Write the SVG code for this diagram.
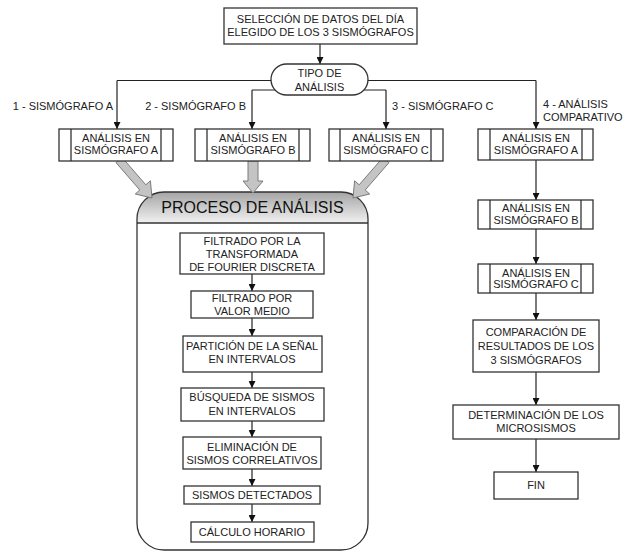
<svg xmlns="http://www.w3.org/2000/svg" width="631" height="552" viewBox="0 0 631 552">
<style>
.box{fill:#fff;stroke:#333;stroke-width:1.3}
.ln{fill:none;stroke:#222;stroke-width:1.2}
.t{font-family:"Liberation Sans",Arial,sans-serif;font-size:11px;fill:#222;text-anchor:middle}
.lbl{font-family:"Liberation Sans",Arial,sans-serif;font-size:11px;fill:#222}
.title{font-family:"Liberation Sans",Arial,sans-serif;font-size:16px;fill:#111;text-anchor:middle}
.fat{fill:#c4c4c4;stroke:#7a7a7a;stroke-width:1}
</style>
<defs>
<marker id="ah" viewBox="0 0 10 10" refX="10" refY="5" markerWidth="7" markerHeight="7" markerUnits="userSpaceOnUse" orient="auto">
<path d="M0,0 L10,5 L0,10 Z" fill="#111"/>
</marker>
<linearGradient id="hdr" x1="0" y1="0" x2="0" y2="1">
<stop offset="0" stop-color="#a4a4a4"/>
<stop offset="1" stop-color="#f2f2f2"/>
</linearGradient>
</defs>

<g id="proceso">
<rect x="137" y="192" width="231" height="358" rx="27" ry="27" fill="#fff"/>
<path d="M137,223 V219 A27,27 0 0 1 164,192 H341 A27,27 0 0 1 368,219 V223 Z" fill="url(#hdr)"/>
<rect x="137" y="192" width="231" height="358" rx="27" ry="27" fill="none" stroke="#333" stroke-width="1.3"/>
<line x1="137" y1="223" x2="368" y2="223" stroke="#333" stroke-width="1.3"/>
<text class="title" x="252.5" y="213">PROCESO DE ANÁLISIS</text>
</g>

<g id="connectors">
<line class="ln" x1="320" y1="44" x2="320" y2="64" marker-end="url(#ah)"/>
<polyline class="ln" points="117,80.5 536,80.5"/>
<line class="ln" x1="117" y1="80.5" x2="117" y2="129" marker-end="url(#ah)"/>
<line class="ln" x1="536" y1="80.5" x2="536" y2="129" marker-end="url(#ah)"/>
<polyline class="ln" points="252,90 386,90"/>
<line class="ln" x1="252" y1="90" x2="252" y2="129" marker-end="url(#ah)"/>
<line class="ln" x1="386" y1="90" x2="386" y2="129" marker-end="url(#ah)"/>
<polygon class="fat" points="116,162.6 139.8,190 135.3,194 152,198 150.4,180.8 145.8,184.8 122,157.4"/>
<polygon class="fat" points="248,161 248,181 243,181 253,193 263,181 258,181 258,161"/>
<polygon class="fat" points="389,162.6 365.2,190 369.7,194 353,198 354.6,180.8 359.2,184.8 383,157.4"/>
<line class="ln" x1="252" y1="274" x2="252" y2="291" marker-end="url(#ah)"/>
<line class="ln" x1="252" y1="318" x2="252" y2="336" marker-end="url(#ah)"/>
<line class="ln" x1="252" y1="372" x2="252" y2="388" marker-end="url(#ah)"/>
<line class="ln" x1="252" y1="421" x2="252" y2="437" marker-end="url(#ah)"/>
<line class="ln" x1="252" y1="469" x2="252" y2="486" marker-end="url(#ah)"/>
<line class="ln" x1="252" y1="504" x2="252" y2="522" marker-end="url(#ah)"/>
<line class="ln" x1="536" y1="160" x2="536" y2="200" marker-end="url(#ah)"/>
<line class="ln" x1="536" y1="229" x2="536" y2="264" marker-end="url(#ah)"/>
<line class="ln" x1="536" y1="293" x2="536" y2="320" marker-end="url(#ah)"/>
<line class="ln" x1="536" y1="372" x2="536" y2="405" marker-end="url(#ah)"/>
<line class="ln" x1="536" y1="439" x2="536" y2="472" marker-end="url(#ah)"/>
<text class="lbl" x="113" y="110" text-anchor="end">1 - SISMÓGRAFO A</text>
<text class="lbl" x="246" y="110" text-anchor="end">2 - SISMÓGRAFO B</text>
<text class="lbl" x="392" y="110">3 - SISMÓGRAFO C</text>
<text class="lbl" x="543" y="108">4 - ANÁLISIS</text>
<text class="lbl" x="543" y="121">COMPARATIVO</text>
</g>

<g id="seleccion">
<rect class="box" x="224" y="8" width="193" height="36"/>
<text class="t" x="320.5" y="23">SELECCIÓN DE DATOS DEL DÍA</text>
<text class="t" x="320.5" y="36">ELEGIDO DE LOS 3 SISMÓGRAFOS</text>
</g>

<g id="tipo">
<rect class="box" x="271" y="64" width="97" height="31" rx="15.5" ry="15.5"/>
<text class="t" x="319.5" y="77">TIPO DE</text>
<text class="t" x="319.5" y="91">ANÁLISIS</text>
</g>

<g id="analisis-a">
<rect class="box" x="59" y="129" width="114" height="32"/>
<line class="ln" x1="71" y1="129" x2="71" y2="161"/>
<line class="ln" x1="161" y1="129" x2="161" y2="161"/>
<text class="t" x="116" y="142">ANÁLISIS EN</text>
<text class="t" x="116" y="154">SISMÓGRAFO A</text>
</g>

<g id="analisis-b">
<rect class="box" x="195" y="129" width="115" height="32"/>
<line class="ln" x1="207" y1="129" x2="207" y2="161"/>
<line class="ln" x1="299" y1="129" x2="299" y2="161"/>
<text class="t" x="253" y="142">ANÁLISIS EN</text>
<text class="t" x="253" y="154">SISMÓGRAFO B</text>
</g>

<g id="analisis-c">
<rect class="box" x="329" y="129" width="114" height="32"/>
<line class="ln" x1="340" y1="129" x2="340" y2="161"/>
<line class="ln" x1="431" y1="129" x2="431" y2="161"/>
<text class="t" x="386" y="142">ANÁLISIS EN</text>
<text class="t" x="386" y="154">SISMÓGRAFO C</text>
</g>

<g id="filtrado-fourier">
<rect class="box" x="180" y="233" width="144" height="41"/>
<text class="t" x="252" y="245">FILTRADO POR LA</text>
<text class="t" x="252" y="258">TRANSFORMADA</text>
<text class="t" x="252" y="271">DE FOURIER DISCRETA</text>
</g>

<g id="filtrado-medio">
<rect class="box" x="191" y="291" width="122" height="27"/>
<text class="t" x="252" y="302">FILTRADO POR</text>
<text class="t" x="252" y="315">VALOR MEDIO</text>
</g>

<g id="particion">
<rect class="box" x="183" y="336" width="139" height="36"/>
<text class="t" x="252" y="350">PARTICIÓN DE LA SEÑAL</text>
<text class="t" x="252" y="363">EN INTERVALOS</text>
</g>

<g id="busqueda">
<rect class="box" x="181" y="388" width="143" height="33"/>
<text class="t" x="252" y="401">BÚSQUEDA DE SISMOS</text>
<text class="t" x="252" y="415">EN INTERVALOS</text>
</g>

<g id="eliminacion">
<rect class="box" x="183" y="437" width="138" height="32"/>
<text class="t" x="252" y="451">ELIMINACIÓN DE</text>
<text class="t" x="252" y="464">SISMOS CORRELATIVOS</text>
</g>

<g id="detectados">
<rect class="box" x="184" y="486" width="136" height="18"/>
<text class="t" x="252" y="498.5">SISMOS DETECTADOS</text>
</g>

<g id="calculo">
<rect class="box" x="191" y="522" width="123" height="20"/>
<text class="t" x="252" y="536">CÁLCULO HORARIO</text>
</g>

<g id="comp-a">
<rect class="box" x="478" y="129" width="115" height="31"/>
<line class="ln" x1="490" y1="129" x2="490" y2="160"/>
<line class="ln" x1="582" y1="129" x2="582" y2="160"/>
<text class="t" x="536" y="142">ANÁLISIS EN</text>
<text class="t" x="536" y="154">SISMÓGRAFO A</text>
</g>

<g id="comp-b">
<rect class="box" x="478" y="200" width="115" height="29"/>
<line class="ln" x1="490" y1="200" x2="490" y2="229"/>
<line class="ln" x1="581" y1="200" x2="581" y2="229"/>
<text class="t" x="536" y="212">ANÁLISIS EN</text>
<text class="t" x="536" y="224">SISMÓGRAFO B</text>
</g>

<g id="comp-c">
<rect class="box" x="478" y="264" width="115" height="29"/>
<line class="ln" x1="490" y1="264" x2="490" y2="293"/>
<line class="ln" x1="581" y1="264" x2="581" y2="293"/>
<text class="t" x="536" y="277">ANÁLISIS EN</text>
<text class="t" x="536" y="288">SISMÓGRAFO C</text>
</g>

<g id="comparacion">
<rect class="box" x="473" y="320" width="126" height="52"/>
<text class="t" x="536" y="336">COMPARACIÓN DE</text>
<text class="t" x="536" y="350">RESULTADOS DE LOS</text>
<text class="t" x="536" y="364">3 SISMÓGRAFOS</text>
</g>

<g id="determinacion">
<rect class="box" x="453" y="405" width="166" height="34"/>
<text class="t" x="536" y="419">DETERMINACIÓN DE LOS</text>
<text class="t" x="536" y="432">MICROSISMOS</text>
</g>

<g id="fin">
<rect class="box" x="494" y="472" width="84" height="27"/>
<text class="t" x="536" y="489">FIN</text>
</g>
</svg>
